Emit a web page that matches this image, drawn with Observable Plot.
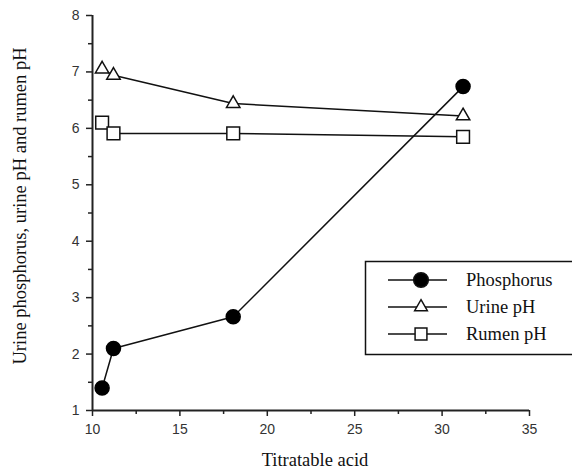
<!DOCTYPE html>
<html>
<head>
<meta charset="utf-8">
<script src="https://cdn.jsdelivr.net/npm/d3@7"></script>
<script src="https://cdn.jsdelivr.net/npm/@observablehq/plot@0.6"></script>
<style>
  html, body { margin: 0; padding: 0; background: #fff; }
  #chart { width: 572px; height: 476px; overflow: hidden; }
</style>
</head>
<body>
<div id="chart"></div>
<script>
// ---- data ----
const titratableAcid = [10.55, 11.2, 18.05, 31.2];
const phosphorus = [1.4, 2.1, 2.66, 6.74];
const urinePH = [7.05, 6.94, 6.44, 6.22];
const rumenPH = [6.1, 5.91, 5.91, 5.85];
const seriesNames = ["Phosphorus", "Urine pH", "Rumen pH"];
const xTicks = [10, 15, 20, 25, 30, 35];
const yTicks = [1, 2, 3, 4, 5, 6, 7, 8];
const xTitle = "Titratable acid";
const yTitle = "Urine phosphorus, urine pH and rumen pH";

const rows = [];
[phosphorus, urinePH, rumenPH].forEach((vals, s) => {
  vals.forEach((v, i) => rows.push({series: seriesNames[s], x: titratableAcid[i], y: v}));
});
const of = name => rows.filter(d => d.series === name);

const serif = "'Liberation Serif', 'Times New Roman', serif";
const sans = "'Liberation Sans', Arial, sans-serif";
const fmt = d => String(d);

const plot = Plot.plot({
  width: 572,
  height: 476,
  marginLeft: 92,
  marginRight: 43,
  marginTop: 15,
  marginBottom: 66,
  style: {fontFamily: sans, background: "#fff", overflow: "visible"},
  x: {domain: [10, 35], label: null},
  y: {domain: [1, 8], label: null},
  marks: [
    // minor ticks
    Plot.axisX(d3.range(12.5, 35, 5), {tickSize: 4, text: null, stroke: "#222", strokeWidth: 1.5}),
    Plot.axisY(d3.range(1.5, 8, 1), {tickSize: 4, text: null, stroke: "#222", strokeWidth: 1.5}),
    // major ticks
    Plot.axisX(xTicks, {tickSize: 6, tickPadding: 8, fontSize: 14, tickFormat: fmt, fill: "#333", stroke: "#222", strokeWidth: 1.5}),
    Plot.axisY(yTicks, {tickSize: 6, tickPadding: 7, fontSize: 14, tickFormat: fmt, fill: "#333", stroke: "#222", strokeWidth: 1.5}),
    // axis lines
    Plot.ruleX([10], {y1: 1, y2: 8, stroke: "#222", strokeWidth: 2}),
    Plot.ruleY([1], {x1: 10, x2: 35, stroke: "#222", strokeWidth: 2}),
    // series
    Plot.line(of("Phosphorus"), {x: "x", y: "y", stroke: "#111", strokeWidth: 1.5}),
    Plot.line(of("Urine pH"), {x: "x", y: "y", stroke: "#111", strokeWidth: 1.5}),
    Plot.line(of("Rumen pH"), {x: "x", y: "y", stroke: "#111", strokeWidth: 1.5}),
    Plot.dot(of("Phosphorus"), {x: "x", y: "y", r: 7, fill: "#000", stroke: "#000"}),
    Plot.dot(of("Urine pH"), {x: "x", y: "y", symbol: "triangle", r: 5, fill: "#fff", stroke: "#111", strokeWidth: 1.5}),
    Plot.dot(of("Rumen pH"), {x: "x", y: "y", symbol: "square", r: 7.2, fill: "#fff", stroke: "#111", strokeWidth: 1.5}),
    // axis titles
    Plot.text([xTitle], {frameAnchor: "bottom", dx: 4, dy: 55, fontSize: 18.5, fontFamily: serif, fill: "#111", textAnchor: "middle", text: d => d}),
    Plot.text([yTitle], {frameAnchor: "left", dx: -72, dy: -7, rotate: -90, fontSize: 18.5, fontFamily: serif, fill: "#111", textAnchor: "middle", text: d => d})
  ]
});

// legend (drawn inside the svg)
const svg = d3.select(plot);
const lg = svg.append("g").attr("class", "legend");
lg.append("rect").attr("x", 365.5).attr("y", 261.5).attr("width", 230).attr("height", 93)
  .attr("fill", "#fff").attr("stroke", "#111").attr("stroke-width", 1.5);
const legendRows = [280, 307, 334];
const sym = [d3.symbolCircle, d3.symbolTriangle, d3.symbolSquare];
const symSize = [170, 70, 140];
const symFill = ["#000", "#fff", "#fff"];
seriesNames.forEach((name, i) => {
  const y = legendRows[i];
  lg.append("line").attr("x1", 388).attr("x2", 447).attr("y1", y).attr("y2", y)
    .attr("stroke", "#111").attr("stroke-width", 1.5);
  lg.append("path").attr("d", d3.symbol(sym[i], symSize[i])())
    .attr("transform", `translate(421,${y})`)
    .attr("fill", symFill[i]).attr("stroke", "#111").attr("stroke-width", 1.5);
  lg.append("text").attr("x", 466).attr("y", y).attr("dy", "0.35em")
    .attr("text-anchor", "start")
    .attr("font-family", serif).attr("font-size", 18.5).attr("fill", "#111").text(name);
});

document.getElementById("chart").appendChild(plot);
</script>
</body>
</html>
